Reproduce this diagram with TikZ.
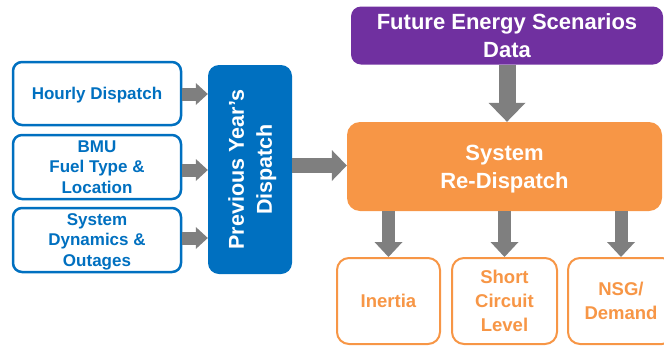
\documentclass[tikz,border=0pt]{standalone}
\usepackage{fontspec}
\setmainfont{Liberation Sans}
\usetikzlibrary{arrows.meta}
\definecolor{ngblue}{HTML}{0070C0}
\definecolor{ngpurple}{HTML}{7030A0}
\definecolor{ngorange}{HTML}{F79646}
\definecolor{arrowgray}{HTML}{7F7F7F}
\tikzset{
  boxtext/.style={align=center, inner sep=0pt, text depth=0pt},
  inbox/.style={boxtext, draw=ngblue, line width=2.5pt, fill=white, rounded corners=9pt,
    text=ngblue, font=\fontsize{17}{20.5}\selectfont\bfseries,
    minimum width=168pt},
  prevbox/.style={fill=ngblue, rounded corners=11pt, inner sep=0pt},
  prevtext/.style={boxtext, rotate=90, text=white,
    font=\fontsize{21.5}{28}\selectfont\bfseries},
  fesbox/.style={boxtext, fill=ngpurple, rounded corners=10pt, text=white,
    font=\fontsize{22}{27.5}\selectfont\bfseries},
  redisp/.style={boxtext, fill=ngorange, rounded corners=13pt, text=white,
    font=\fontsize{22}{28}\selectfont\bfseries},
  outbox/.style={boxtext, draw=ngorange, line width=2pt, fill=white, rounded corners=12pt,
    text=ngorange, font=\fontsize{18.5}{24}\selectfont\bfseries,
    minimum height=86pt},
  blockarrow/.style n args={3}{draw=arrowgray, line width=#1pt,
    -{Triangle[width=#2pt, length=#3pt, line width=0pt, fill=arrowgray]}},
}
\begin{document}
\begin{tikzpicture}[x=1pt, y=-1pt]
  \useasboundingbox (0,0) rectangle (664,346);
  \begin{scope}
    \clip (0,0) rectangle (664,346);

    % input data boxes
    \node[inbox, minimum height=63pt] (hd) at (97,93.5) {Hourly Dispatch};
    \node[inbox, minimum height=64pt] (bmu) at (97,167) {BMU\\Fuel Type \&\\Location};
    \node[inbox, minimum height=64pt] (sdo) at (97,240) {System\\Dynamics \&\\Outages};

    % previous year's dispatch (vertical text)
    \node[prevbox, minimum width=84pt, minimum height=209pt] (prev) at (250,169.5) {};
    \node[prevtext] (prevtxt) at (prev.center) {Previous Year’s\\Dispatch};

    % future energy scenarios
    \node[fesbox, minimum width=312pt, minimum height=58pt] (fes) at (507,35.5)
      {Future Energy Scenarios\\Data};

    % system re-dispatch
    \node[redisp, minimum width=315pt, minimum height=89pt] (sys) at (504.5,166.5)
      {System\\Re-Dispatch};

    % output metrics
    \node[outbox, minimum width=103pt] (inertia) at (388.5,301) {Inertia};
    \node[outbox, minimum width=105pt] (scl) at (504.5,301) {Short\\Circuit\\Level};
    \node[outbox, minimum width=106pt] (nsg) at (621,301) {NSG/\\Demand};

    % connectors
    \draw[blockarrow={13}{22}{12}] ([yshift=-0.5pt]hd.east) -- ([yshift=-0.5pt]hd.east -| prev.west);
    \draw[blockarrow={13}{22}{12}] ([yshift=-3pt]bmu.east) -- ([yshift=-3pt]bmu.east -| prev.west);
    \draw[blockarrow={13}{22}{12}] ([yshift=2pt]sdo.east) -- ([yshift=2pt]sdo.east -| prev.west);
    \draw[blockarrow={15}{31}{15}] ([yshift=4pt]prev.east) -- ([yshift=4pt]prev.east -| sys.west);
    \draw[blockarrow={17}{37}{19}] (fes.south) -- (fes.south |- sys.north);
    \draw[blockarrow={13}{28}{15}] (sys.south -| inertia.north) -- (inertia.north);
    \draw[blockarrow={13}{28}{15}] (sys.south -| scl.north) -- (scl.north);
    \draw[blockarrow={13}{28}{15}] (sys.south -| nsg.north) -- (nsg.north);
  \end{scope}
\end{tikzpicture}
\end{document}
